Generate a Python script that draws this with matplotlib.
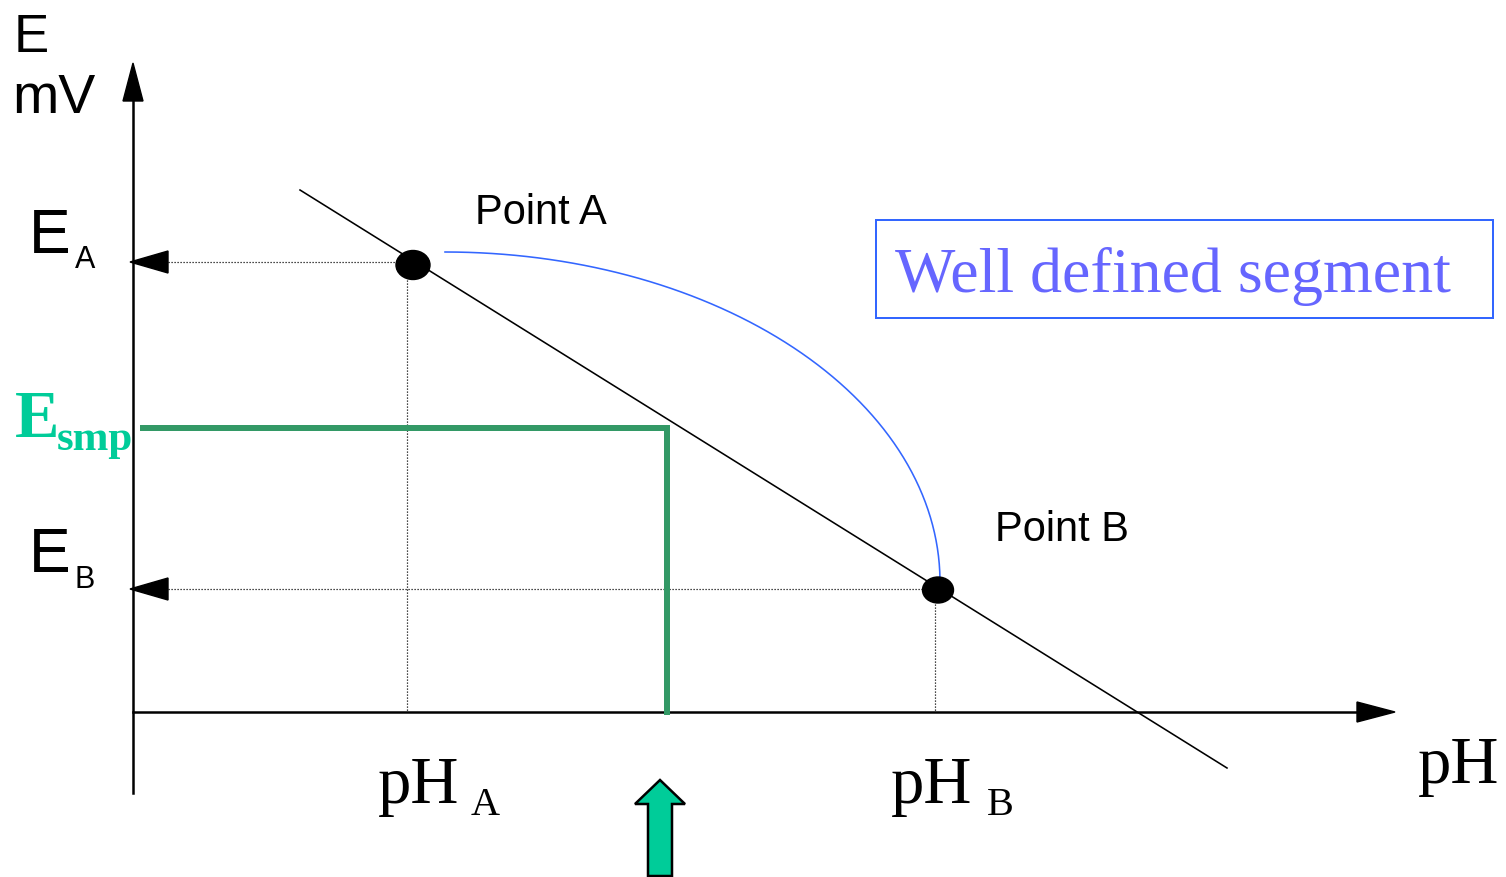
import numpy as np
import matplotlib.pyplot as plt
from matplotlib.patches import Ellipse, Rectangle, FancyArrow

# diagram geometry (pixel units of the 1506 x 877 canvas, y grows downward)
origin = (133, 712)
y_axis_span = [793, 63]
x_axis_span = [133, 1395]
calib_line_x = [300, 1227]
calib_line_y = [190, 768]
point_a = (413, 265)
point_b = (938, 590)
e_levels = [262, 589]
ph_positions = [407, 935]
esmp_level = 428
ph_smp = 667
arc_center = (445, 582)
arc_radii = (495, 330)

SANS = 'Liberation Sans'
SERIF = 'Liberation Serif'
GREEN_LINE = '#339966'
GREEN = '#00cc99'
BLUE = '#3366ff'
BLUE_TEXT = '#6666ff'


def px(n):
    """Pixel width -> points at dpi 100."""
    return n * 72 / 100


fig = plt.figure(figsize=(15.06, 8.77), dpi=100)
ax = fig.add_axes([0, 0, 1, 1])
ax.set_xlim(0, 1506)
ax.set_ylim(877, 0)
ax.axis('off')

# axes with arrowheads
ax.plot([origin[0], origin[0]], [y_axis_span[0], y_axis_span[1] + 35], color='k', lw=px(2.5))
ax.arrow(origin[0], y_axis_span[1] + 38, 0, -38, width=0, head_width=20, head_length=38,
         length_includes_head=True, color='k')
ax.plot([x_axis_span[0], x_axis_span[1] - 35], [origin[1], origin[1]], color='k', lw=px(2.5))
ax.arrow(x_axis_span[1] - 38, origin[1], 38, 0, width=0, head_width=20, head_length=38,
         length_includes_head=True, color='k')

# calibration line
ax.plot(calib_line_x, calib_line_y, color='k', lw=px(1.6))

# dotted guides and left arrows at E_A / E_B
for e, ph in zip(e_levels, ph_positions):
    ax.plot([168, ph], [e, e], color='k', lw=px(1.2), ls=(0, (1, 1.5)))
    ax.plot([ph, ph], [e, origin[1]], color='k', lw=px(1.2), ls=(0, (1, 1.5)))
    ax.arrow(168, e, -38, 0, width=0, head_width=22, head_length=38,
             length_includes_head=True, color='k')

# sample level (green)
ax.plot([140, ph_smp, ph_smp], [esmp_level, esmp_level, origin[1] + 3],
        color=GREEN_LINE, lw=px(6), solid_joinstyle='miter', solid_capstyle='butt')

# quarter ellipse arc between points
t = np.linspace(0, np.pi / 2, 200)
ax.plot(arc_center[0] + arc_radii[0] * np.sin(t),
        arc_center[1] - arc_radii[1] * np.cos(t), color=BLUE, lw=px(1.6))

# points
ax.add_patch(Ellipse(point_a, 34, 29, color='k', zorder=5))
ax.add_patch(Ellipse(point_b, 31, 26, color='k', zorder=5))

# box with label
ax.add_patch(Rectangle((876, 220), 617, 98, fill=False, edgecolor=BLUE, lw=px(2)))
ax.text(895, 292, 'Well defined segment', family=SERIF, fontsize=46, color=BLUE_TEXT,
        va='baseline', ha='left')

# green block arrow under the sample pH
ax.add_patch(FancyArrow(660, 876, 0, -96, width=24, head_width=50, head_length=24,
                        length_includes_head=True, facecolor=GREEN, edgecolor='k',
                        lw=px(2.5), joinstyle='miter'))

# labels
ax.text(14, 52, 'E', family=SANS, fontsize=38, va='baseline')
ax.text(12, 113, 'mV', family=SANS, fontsize=40, va='baseline')
ax.text(29, 253, 'E', family=SANS, fontsize=45, va='baseline')
ax.text(75, 268, 'A', family=SANS, fontsize=22, va='baseline')
ax.text(29, 572, 'E', family=SANS, fontsize=45, va='baseline')
ax.text(75, 588, 'B', family=SANS, fontsize=22, va='baseline')
ax.text(15, 437, 'E', family=SERIF, fontsize=48, fontweight='bold', color=GREEN, va='baseline')
ax.text(57, 450, 'smp', family=SERIF, fontsize=31, fontweight='bold', color=GREEN, va='baseline')
ax.text(475, 224, 'Point A', family=SANS, fontsize=30, va='baseline')
ax.text(995, 541, 'Point B', family=SANS, fontsize=30, va='baseline')
ax.text(378, 803, 'pH', family=SERIF, fontsize=48, va='baseline')
ax.text(471, 815, 'A', family=SERIF, fontsize=29, va='baseline')
ax.text(891, 803, 'pH', family=SERIF, fontsize=48, va='baseline')
ax.text(987, 815, 'B', family=SERIF, fontsize=29, va='baseline')
ax.text(1418, 783, 'pH', family=SERIF, fontsize=48, va='baseline')

fig.savefig('out.png', dpi=100)
